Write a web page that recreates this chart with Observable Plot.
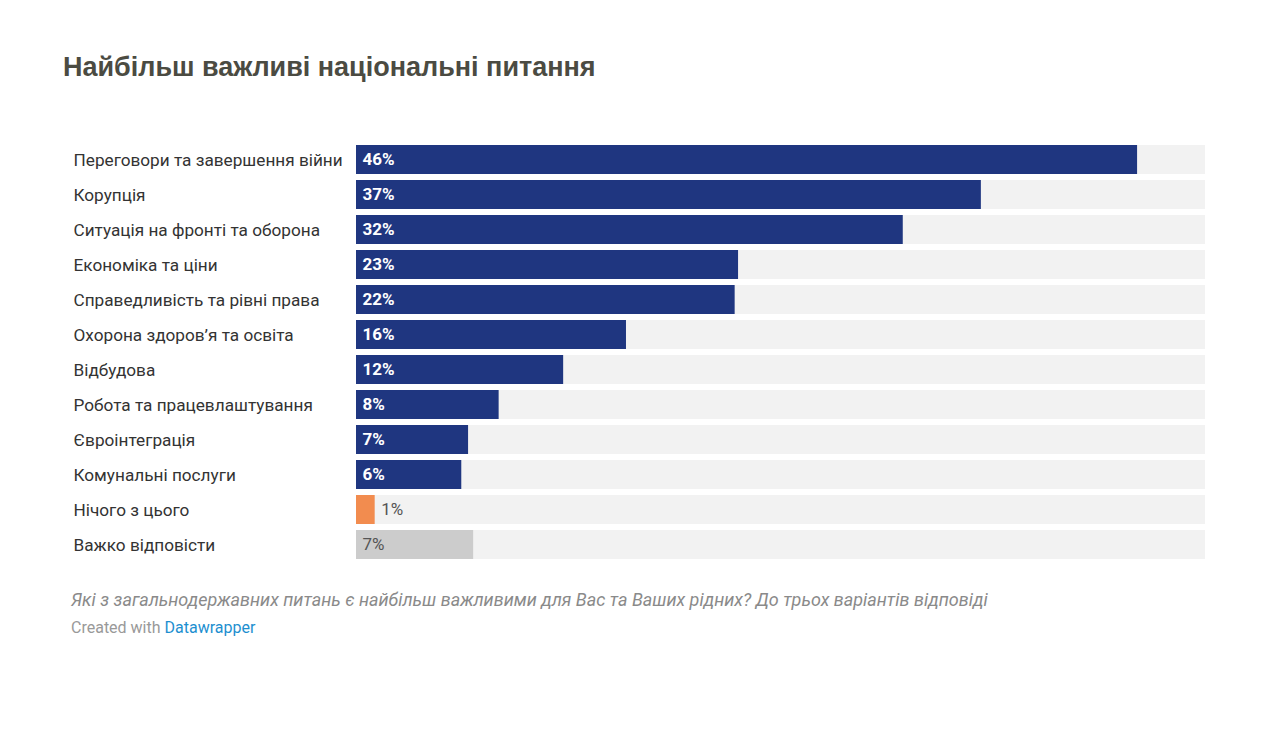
<!DOCTYPE html>
<html>
<head>
<meta charset="utf-8">
<script src="https://cdn.jsdelivr.net/npm/d3@7"></script>
<script src="https://cdn.jsdelivr.net/npm/@observablehq/plot@0.6"></script>
<style>
  html, body { margin: 0; padding: 0; background: #fff; }
  #wrap { position: relative; width: 1274px; height: 731px; }
  #title { position: absolute; left: 63px; top: 52px; font-family: "Liberation Sans", Arial, sans-serif; font-weight: bold; font-size: 27px; color: #4b4b42; white-space: nowrap; }
  #chart { position: absolute; left: 0; top: 120px; }
  #caption { position: absolute; left: 71px; top: 589px; font-family: Roboto, sans-serif; font-style: italic; font-size: 18px; color: #8a8a8a; white-space: nowrap; }
  #credit { position: absolute; left: 71px; top: 618px; font-family: Roboto, sans-serif; font-size: 16px; color: #999; white-space: nowrap; }
  #credit span { color: #1d8fd0; }
</style>
</head>
<body>
<div id="wrap">
  <div id="title">Найбільш важливі національні питання</div>
  <div id="chart"></div>
  <div id="caption">Які з загальнодержавних питань є найбільш важливими для Вас та Ваших рідних? До трьох варіантів відповіді</div>
  <div id="credit">Created with <span>Datawrapper</span></div>
</div>
<script>
const categories = [
  "Переговори та завершення війни",
  "Корупція",
  "Ситуація на фронті та оборона",
  "Економіка та ціни",
  "Справедливість та рівні права",
  "Охорона здоров’я та освіта",
  "Відбудова",
  "Робота та працевлаштування",
  "Євроінтеграція",
  "Комунальні послуги",
  "Нічого з цього",
  "Важко відповісти"
];
const values = [46, 36.8, 32.2, 22.5, 22.3, 15.9, 12.2, 8.4, 6.6, 6.2, 1.1, 6.9];
const valueLabels = ["46%", "37%", "32%", "23%", "22%", "16%", "12%", "8%", "7%", "6%", "1%", "7%"];
const kinds = ["issue","issue","issue","issue","issue","issue","issue","issue","issue","issue","none","hard"];

const kindColor = {issue: "#1f3680", none: "#f28c4f", hard: "#cccccc"};
const data = categories.map((c, i) => ({category: c, value: values[i], label: valueLabels[i], kind: kinds[i]}));
const bgMax = 50;

const chart = Plot.plot({
  width: 1274,
  height: 450,
  marginLeft: 356,
  marginRight: 69,
  marginTop: 24.7,
  marginBottom: 10,
  style: {fontFamily: "Roboto, sans-serif", background: "transparent"},
  x: {domain: [0, bgMax], axis: null},
  y: {domain: categories, paddingInner: 0.165, paddingOuter: 0, label: null},
  marks: [
    Plot.barX(data, {y: "category", x1: 0, x2: bgMax, fill: "#f2f2f2"}),
    Plot.barX(data, {y: "category", x1: 0, x2: "value", fill: d => kindColor[d.kind]}),
    Plot.text(data.filter(d => d.kind === "issue"), {y: "category", x: 0, text: "label", dx: 6, textAnchor: "start", fill: "white", fontWeight: "bold", fontSize: 17}),
    Plot.text(data.filter(d => d.kind === "hard"), {y: "category", x: 0, text: "label", dx: 6, textAnchor: "start", fill: "#555", fontSize: 17}),
    Plot.text(data.filter(d => d.kind === "none"), {y: "category", x: "value", text: "label", dx: 6, textAnchor: "start", fill: "#555", fontSize: 17}),
    Plot.axisY({tickSize: 0, tickPadding: 0, textAnchor: "start", dx: -283, fontSize: 17.2, fill: "#333", label: null})
  ]
});
document.getElementById("chart").appendChild(chart);
</script>
</body>
</html>
